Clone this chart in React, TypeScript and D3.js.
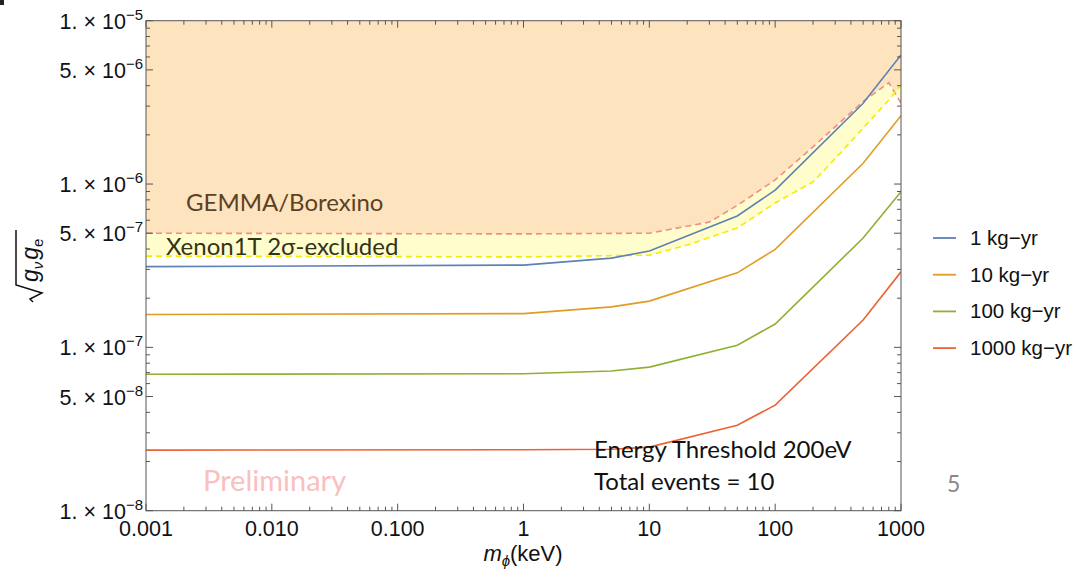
import React, { useRef, useEffect } from 'react';
import * as d3 from 'd3';

// x: mediator mass (keV), y: sqrt(g_nu g_e)
const masses = [0.001, 1, 5, 10, 50, 100, 500, 1000];
const oneKgYr = [3.12e-7, 3.19e-7, 3.52e-7, 3.89e-7, 6.37e-7, 9.18e-7, 3.12e-6, 6.16e-6];
const tenKgYr = [1.59e-7, 1.61e-7, 1.77e-7, 1.92e-7, 2.86e-7, 3.98e-7, 1.34e-6, 2.62e-6];
const hundredKgYr = [6.84e-8, 6.9e-8, 7.16e-8, 7.57e-8, 1.03e-7, 1.39e-7, 4.67e-7, 8.97e-7];
const thousandKgYr = [2.35e-8, 2.36e-8, 2.38e-8, 2.45e-8, 3.34e-8, 4.43e-8, 1.47e-7, 2.9e-7];

// GEMMA/Borexino bound (pink dashed)
const gemmaMass = [0.001, 1, 10, 30, 50, 100, 200, 500, 800, 1000];
const gemmaBound = [5e-7, 4.95e-7, 5e-7, 5.85e-7, 7.4e-7, 1.06e-6, 1.69e-6, 3.2e-6, 4.17e-6, 3.13e-6];

// Xenon1T 2 sigma (yellow dashed)
const xenonMass = [0.001, 1, 10, 20, 50, 100, 200, 330, 500, 800, 1000];
const xenonBound = [3.62e-7, 3.58e-7, 3.67e-7, 4.23e-7, 5.38e-7, 7.66e-7, 1.03e-6, 1.55e-6, 2.2e-6, 3.27e-6, 4.04e-6];

const seriesNames = ['1 kg\u2212yr', '10 kg\u2212yr', '100 kg\u2212yr', '1000 kg\u2212yr'];
const seriesColors = ['#5e81b5', '#e19c24', '#8fb032', '#eb6235'];

const xTickValues = [0.001, 0.01, 0.1, 1, 10, 100, 1000];
const xTickLabels = ['0.001', '0.010', '0.100', '1', '10', '100', '1000'];
const yTickValues = [1e-5, 5e-6, 1e-6, 5e-7, 1e-7, 5e-8, 1e-8];
const yTickMant = ['1', '5', '1', '5', '1', '5', '1'];
const yTickExp = ['\u22125', '\u22126', '\u22126', '\u22127', '\u22127', '\u22128', '\u22128'];

const W = 1091;
const H = 576;
const left = 146, right = 901, top = 20.7, bottom = 510.7;

// log-log interpolation of a bound curve
const interp = (ms: number[], vs: number[], m: number) => {
  const lm = Math.log10(m);
  for (let i = 0; i < ms.length - 1; i++) {
    const a = Math.log10(ms[i]), b = Math.log10(ms[i + 1]);
    if (lm >= a && lm <= b) {
      const t = (lm - a) / (b - a);
      return Math.pow(10, Math.log10(vs[i]) * (1 - t) + Math.log10(vs[i + 1]) * t);
    }
  }
  return vs[vs.length - 1];
};

const App = () => {
  const svgRef = useRef<SVGSVGElement>(null);

  useEffect(() => {
    const svg = d3.select(svgRef.current);
    svg.selectAll('*').remove();

    const x = d3.scaleLog().domain([0.001, 1000]).range([left, right]);
    const y = d3.scaleLog().domain([1e-8, 1e-5]).range([bottom, top]);

    svg.append('defs').append('clipPath').attr('id', 'plotclip')
      .append('rect')
      .attr('x', left).attr('y', top)
      .attr('width', right - left).attr('height', bottom - top);

    const plot = svg.append('g').attr('clip-path', 'url(#plotclip)');

    const gemma = gemmaMass.map((m, i) => [m, gemmaBound[i]]);
    const xenon = xenonMass.map((m, i) => [m, xenonBound[i]]);

    // excluded region above GEMMA/Borexino
    plot.append('path')
      .datum(gemma)
      .attr('fill', '#fde4be')
      .attr('d', d3.area<number[]>().x(d => x(d[0])).y0(d => y(d[1])).y1(top));

    // yellow band between the two dashed bounds
    const band = Array.from(new Set([...gemmaMass, ...xenonMass])).sort((a, b) => a - b);
    plot.append('path')
      .datum(band)
      .attr('fill', '#fffdcc')
      .attr('d', d3.area<number>()
        .x(d => x(d))
        .y0(d => y(interp(xenonMass, xenonBound, d)))
        .y1(d => y(interp(gemmaMass, gemmaBound, d))));

    const line = d3.line<number[]>().x(d => x(d[0])).y(d => y(d[1]));

    plot.append('path').datum(gemma)
      .attr('fill', 'none').attr('stroke', '#f58a8a').attr('stroke-width', 1.6)
      .attr('stroke-dasharray', '6,4').attr('d', line);
    plot.append('path').datum(xenon)
      .attr('fill', 'none').attr('stroke', '#f2ee00').attr('stroke-width', 1.6)
      .attr('stroke-dasharray', '6,4').attr('d', line);

    const series = [oneKgYr, tenKgYr, hundredKgYr, thousandKgYr];
    series.forEach((vals, k) => {
      plot.append('path')
        .datum(masses.map((m, i) => [m, vals[i]]))
        .attr('fill', 'none')
        .attr('stroke', seriesColors[k])
        .attr('stroke-width', 1.6)
        .attr('d', line);
    });

    // frame
    const axisColor = '#555';
    svg.append('rect')
      .attr('x', left).attr('y', top)
      .attr('width', right - left).attr('height', bottom - top)
      .attr('fill', 'none').attr('stroke', axisColor).attr('stroke-width', 1);

    // ticks on all four sides, pointing inwards
    const ticks = svg.append('g').attr('stroke', axisColor).attr('stroke-width', 1);
    const xMinor: number[] = [];
    for (let e = -3; e < 3; e++) for (let k = 2; k <= 9; k++) xMinor.push(k * Math.pow(10, e));
    const yMinor: number[] = [];
    for (let e = -8; e < -5; e++) for (let k = 2; k <= 9; k++) if (k !== 5) yMinor.push(k * Math.pow(10, e));

    xTickValues.forEach(v => {
      ticks.append('line').attr('x1', x(v)).attr('x2', x(v)).attr('y1', bottom).attr('y2', bottom - 7);
      ticks.append('line').attr('x1', x(v)).attr('x2', x(v)).attr('y1', top).attr('y2', top + 7);
    });
    xMinor.forEach(v => {
      ticks.append('line').attr('x1', x(v)).attr('x2', x(v)).attr('y1', bottom).attr('y2', bottom - 4);
      ticks.append('line').attr('x1', x(v)).attr('x2', x(v)).attr('y1', top).attr('y2', top + 4);
    });
    yTickValues.forEach(v => {
      ticks.append('line').attr('x1', left).attr('x2', left + 7).attr('y1', y(v)).attr('y2', y(v));
      ticks.append('line').attr('x1', right).attr('x2', right - 7).attr('y1', y(v)).attr('y2', y(v));
    });
    yMinor.forEach(v => {
      ticks.append('line').attr('x1', left).attr('x2', left + 4).attr('y1', y(v)).attr('y2', y(v));
      ticks.append('line').attr('x1', right).attr('x2', right - 4).attr('y1', y(v)).attr('y2', y(v));
    });

    const sans = '"Liberation Sans", Arial, sans-serif';
    const xl = svg.append('g').attr('font-family', sans).attr('font-size', 21.5).attr('fill', '#111');
    xTickValues.forEach((v, i) => {
      xl.append('text').attr('x', x(v)).attr('y', bottom + 25)
        .attr('text-anchor', 'middle').text(xTickLabels[i]);
    });

    const yl = svg.append('g').attr('font-family', sans).attr('font-size', 21.5).attr('fill', '#111');
    yTickValues.forEach((v, i) => {
      const t = yl.append('text').attr('x', left - 3).attr('y', y(v) + 8).attr('text-anchor', 'end');
      t.append('tspan').text(yTickMant[i] + '. \u00d7 10');
      t.append('tspan').attr('dy', -9).attr('font-size', 15).text(yTickExp[i]);
    });

    // axis labels
    const xt = svg.append('text').attr('x', 523).attr('y', 561).attr('text-anchor', 'middle')
      .attr('font-family', sans).attr('font-size', 22).attr('fill', '#111');
    xt.append('tspan').attr('font-style', 'italic').text('m');
    xt.append('tspan').attr('font-style', 'italic').attr('font-size', 15).attr('dy', 5).text('\u03d5');
    xt.append('tspan').attr('dy', -5).text('(keV)');

    const yt = svg.append('g').attr('transform', 'translate(38,265) rotate(-90)');
    yt.append('path')
      .attr('d', 'M -37 -5 L -34 -8 L -28 4 L -20 -22 L 35 -22')
      .attr('fill', 'none').attr('stroke', '#111').attr('stroke-width', 1.5);
    const ytt = yt.append('text').attr('x', -17).attr('y', 0)
      .attr('font-family', sans).attr('font-size', 23).attr('fill', '#111');
    ytt.append('tspan').attr('font-style', 'italic').text('g');
    ytt.append('tspan').attr('font-style', 'italic').attr('font-size', 15).attr('dy', 5).text('\u03bd');
    ytt.append('tspan').attr('font-style', 'italic').attr('dy', -5).attr('dx', 2).text('g');
    ytt.append('tspan').attr('font-size', 15).attr('dy', 5).text('e');

    // region annotations
    const cal = 'Lato, "Open Sans", sans-serif';
    svg.append('text').attr('x', 186).attr('y', 211)
      .attr('font-family', cal).attr('font-size', 24).attr('fill', '#5c4124')
      .text('GEMMA/Borexino');
    svg.append('text').attr('x', 166).attr('y', 255)
      .attr('font-family', cal).attr('font-size', 24).attr('fill', '#333318')
      .text('Xenon1T 2\u03c3-excluded');
    svg.append('text').attr('x', 203).attr('y', 491)
      .attr('font-family', cal).attr('font-size', 29).attr('fill', '#f9c0c0')
      .text('Preliminary');
    svg.append('text').attr('x', 594).attr('y', 458)
      .attr('font-family', cal).attr('font-size', 24).attr('fill', '#111')
      .text('Energy Threshold 200eV');
    svg.append('text').attr('x', 594).attr('y', 490)
      .attr('font-family', cal).attr('font-size', 24).attr('fill', '#111')
      .text('Total events = 10');
    svg.append('text').attr('x', 947).attr('y', 492)
      .attr('font-family', cal).attr('font-size', 23).attr('fill', '#888')
      .text('5');

    // legend
    const lg = svg.append('g').attr('font-family', sans).attr('font-size', 20.5).attr('fill', '#111');
    seriesNames.forEach((name, i) => {
      const ly = 238 + i * 36.7;
      lg.append('line').attr('x1', 933).attr('x2', 956).attr('y1', ly).attr('y2', ly)
        .attr('stroke', seriesColors[i]).attr('stroke-width', 1.8);
      lg.append('text').attr('x', 970).attr('y', ly + 7).text(name);
    });

    // slide artifact at the corner
    svg.append('rect').attr('x', 0).attr('y', 0).attr('width', 4).attr('height', 5).attr('fill', '#222');
  }, []);

  return (
    <div style={{ position: 'absolute', left: 0, top: 0 }}>
      <svg ref={svgRef} width={W} height={H} style={{ display: 'block', background: '#fff' }} />
    </div>
  );
};

export default App;
